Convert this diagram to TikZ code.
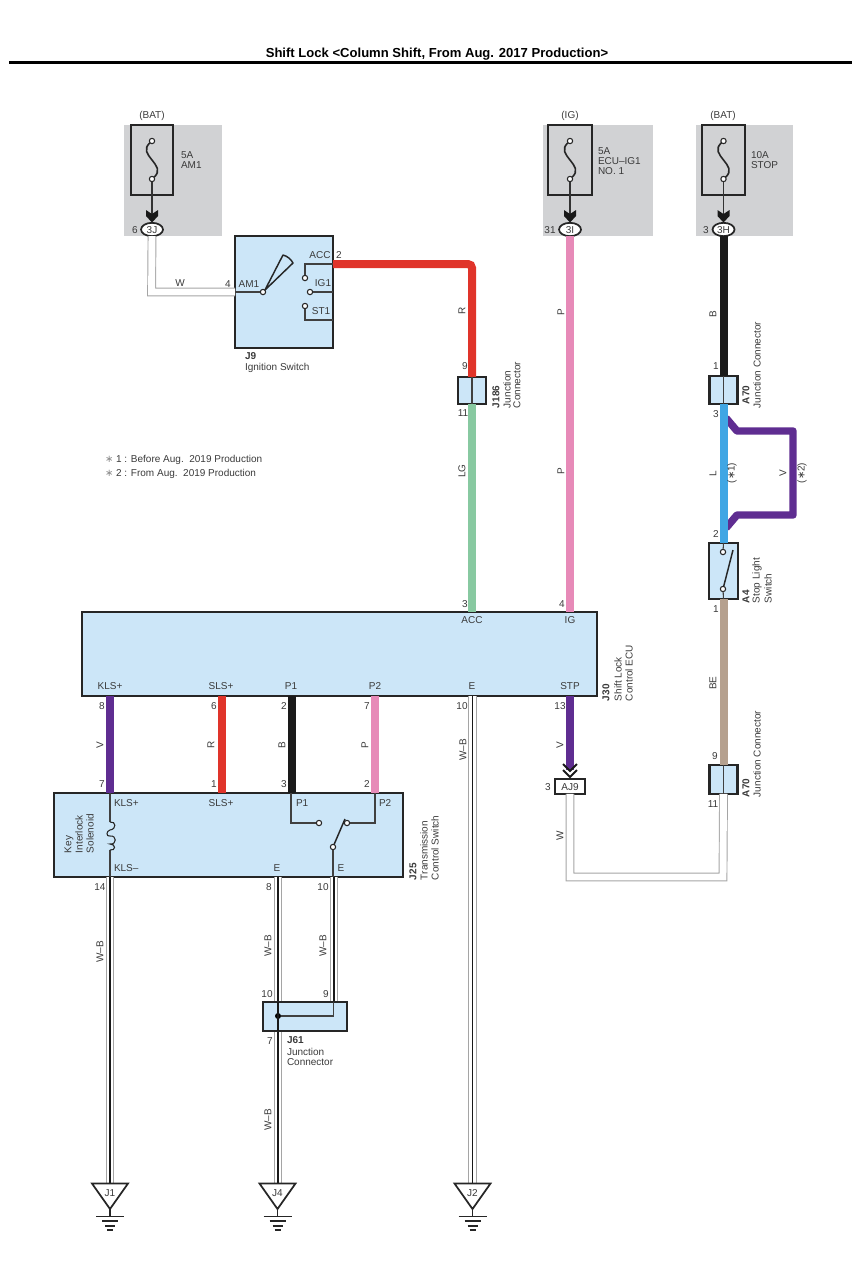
\documentclass[tikz,border=0pt]{standalone}
\usepackage{fontspec}
\usetikzlibrary{shapes.geometric}
\setmainfont{Liberation Sans}
\newfontfamily\symfont{DejaVu Sans}
\definecolor{txt}{HTML}{3A3A3A}
\definecolor{bluefill}{HTML}{CCE6F8}
\definecolor{grayzone}{HTML}{D1D2D4}
\definecolor{wireR}{HTML}{E0342A}
\definecolor{wireP}{HTML}{E78AB8}
\definecolor{wireB}{HTML}{1A1A1A}
\definecolor{wireLG}{HTML}{88C9A1}
\definecolor{wireL}{HTML}{40A6E4}
\definecolor{wireV}{HTML}{5F2D91}
\definecolor{wireBE}{HTML}{B5A08E}
\definecolor{wireGray}{HTML}{A5A5A5}
\newcommand\staric{{\symfont ∗}}
\newcounter{lb}
\newcommand\lbl[3][]{\stepcounter{lb}\node[lbl,#1] (lb\arabic{lb}) at (#2) {#3};}
\tikzset{
 lbl/.style={font=\fontsize{7.5pt}{8pt}\selectfont,text=txt,inner sep=0pt,outer sep=0pt},
 bld/.style={font=\fontsize{7.5pt}{8pt}\selectfont\bfseries},
 rot/.style={rotate=90},
 rotb/.style={rotate=90,anchor=west},
 lft/.style={anchor=west},
 bluebox/.style={draw=black!85,line width=1.6pt,fill=bluefill,inner sep=0pt,outer sep=0pt},
 fusebox/.style={draw=black!85,line width=1.7pt,inner sep=0pt,outer sep=0pt},
 oval/.style={ellipse,draw=black!85,line width=1.3pt,fill=white,minimum width=16.5pt,minimum height=10pt,inner sep=0pt,outer sep=0pt},
 term/.style={circle,draw=black!85,line width=.8pt,fill=white,minimum size=4pt,inner sep=0pt,outer sep=0pt},
 thin wire/.style={draw=black!75,line width=.8pt},
 wire/.style={line width=6pt,draw=#1},
 wwire/.style={draw=wireGray,line width=.7pt,double=white,double distance=5.2pt},
 blk/.style={draw=black!90,line width=1.1pt},
 zone/.style={fill=grayzone,draw=none,inner sep=0pt,outer sep=0pt},
}
\begin{document}
\begin{tikzpicture}[x=0.75pt,y=-0.75pt]
\useasboundingbox (0,0) rectangle (852,1279);
% title
\node[lbl,font=\fontsize{9.8pt}{10pt}\selectfont\bfseries,text=black] (title) at (437,54) {Shift Lock <Column Shift, From Aug. 2017 Production>};
\coordinate (ruleL) at (9,62.5); \coordinate (ruleR) at (852,62.5);
\draw[black,line width=2.2pt] (ruleL) -- (ruleR);
% grey zones
\node[zone,minimum width=73.5pt,minimum height=83.5pt] (z1) at (172.75,180.5) {};
\node[zone,minimum width=82.5pt,minimum height=83.5pt] (z2) at (598,180.5) {};
\node[zone,minimum width=72.5pt,minimum height=83.5pt] (z3) at (744.3,180.5) {};
% long wires
\coordinate (w1) at (333,264);
\node[bluebox,minimum width=21pt,minimum height=20.5pt] (j186) at (472,390.5) {};
\node[bluebox,minimum width=21pt,minimum height=20.5pt] (a70a) at (723.5,390) {};
\node[bluebox,minimum width=21.5pt,minimum height=42pt] (a4) at (723.5,571) {};
\node[bluebox,minimum width=21pt,minimum height=21.5pt] (a70b) at (723.5,779.5) {};
\node[bluebox,minimum width=386pt,minimum height=63pt] (j30) at (339.5,654) {};
\node[bluebox,minimum width=262pt,minimum height=63pt] (j25) at (228.5,835) {};
\node[bluebox,minimum width=63pt,minimum height=21.5pt] (j61) at (305,1016.5) {};
\node[bluebox,minimum width=73.5pt,minimum height=84pt] (j9) at (284,292) {};
\node[fusebox,minimum width=31.5pt,minimum height=52.5pt] (f1) at (152,160) {};
\node[fusebox,minimum width=32.5pt,minimum height=52.5pt] (f2) at (570,160) {};
\node[fusebox,minimum width=32pt,minimum height=52.5pt] (f3) at (723.5,160) {};
\node[oval] (o1) at (152,229.5) {};
\node[oval] (o2) at (570,229.5) {};
\node[oval] (o3) at (723.5,229.5) {};
\node[draw=black!85,line width=1.3pt,fill=white,minimum width=22pt,minimum height=11pt,inner sep=0pt,outer sep=0pt] (aj9) at (570,786.5) {};
% coloured wires
\draw[wire=wireR,rounded corners=3pt] (j9.east |- w1) -| (j186.north);
\draw[wire=wireLG] (j186.south) -- (j186.south |- j30.north);
\draw[wire=wireP] (o2.south) -- (o2.south |- j30.north);
\draw[wire=wireB] (o3.south) -- (a70a.north);
\coordinate (v1) at (726,418); \coordinate (v2) at (737,431); \coordinate (v3) at (793,431);
\coordinate (v4) at (793,515); \coordinate (v5) at (737,515); \coordinate (v6) at (726,528);
\draw[line width=5.6pt,draw=wireV,line join=round] (v1) -- (v2) -- (v3) -- (v4) -- (v5) -- (v6);
\draw[wire=wireL] (a70a.south) -- (a4.north);
\draw[wire=wireBE] (a4.south) -- (a70b.north);
\coordinate (k1) at (110,0); \coordinate (k2) at (221.5,0); \coordinate (k3) at (291.5,0); \coordinate (k4) at (375,0);
\draw[wire=wireV] (k1 |- j30.south) -- (k1 |- j25.north);
\draw[wire=wireR] (k2 |- j30.south) -- (k2 |- j25.north);
\draw[wire=wireB] (k3 |- j30.south) -- (k3 |- j25.north);
\draw[wire=wireP] (k4 |- j30.south) -- (k4 |- j25.north);
\coordinate (stp) at (570,770);
\draw[wire=wireV] (aj9 |- j30.south) -- (stp);
% chevrons STP
\draw[black!90,line width=1.5pt,line join=miter] (563,764) -- (570,771) -- (577,764);
\draw[black!90,line width=1.5pt,line join=miter] (563,770) -- (570,777) -- (577,770);
% white wires
\coordinate (wc) at (151.6,292);
\draw[wwire] (o1.south) -- (wc) -- (j9.west |- wc);
\coordinate (wd) at (570,877); \coordinate (we) at (723,877);
\draw[wwire] (aj9.south) -- (wd) -- (we) -- (a70b.south);
% W-B wires
\coordinate (g1) at (110,1183); \coordinate (g2) at (278,1183); \coordinate (g3) at (472.5,1183);
\coordinate (t2) at (278,877); \coordinate (t3) at (334,877);
\draw[wwire] (g1 |- j25.south) -- (g1);
\draw[black!90,line width=1.1pt] (g1 |- j25.south) -- (g1);
\draw[wwire] (t2) -- (g2);
\draw[black!90,line width=1.1pt] (t2) -- (g2);
\draw[wwire] (t3) -- (t3 |- j61.north);
\draw[black!90,line width=1.1pt] (t3) -- (t3 |- j61.north);
\draw[wwire] (g3 |- j30.south) -- (g3);
\draw[black!90,line width=1.1pt] (g3 |- j30.south) -- (g3);
% J61 redraw over wires
\node[bluebox,minimum width=63pt,minimum height=21.5pt] (j61b) at (305,1016.5) {};
\node[circle,fill=black,minimum size=4.5pt,inner sep=0pt] (jd) at (278,1016) {};
\coordinate (g2t) at (278,1002); \coordinate (g2b) at (278,1031);
\draw[blk] (g2t) -- (g2b);
\coordinate (jr) at (333.5,1016);
\draw[thin wire] (jd) -- (jr) -- (jr |- j61b.north);
% fuses
\foreach \n/\x in {a/152,b/570,c/723.5}{
  \node[term] (\n top) at (\x,141) {};
  \node[term] (\n bot) at (\x,179) {};
  \coordinate (\n tip) at (\x,214);
  \draw[black!85,line width=1.2pt] (\n top) .. controls (\x-16,155) and (\x+16,165) .. (\n bot);
  \draw[black!80,line width=.9pt] (\n bot) -- (\n tip);
  \fill[black!90] (\x-6,210) -- (\n tip) -- (\x+6,210) -- (\x+6,216) -- (\x,222.5) -- (\x-6,216) -- cycle;
}
% J186 / A70 inner lines
\draw[thin wire] (j186.north) -- (j186.south);
\draw[thin wire] (a70a.north) -- (a70a.south);
\draw[thin wire] (a70b.north) -- (a70b.south);
% J9 internals
\node[term] (sw0) at (263,292) {};
\node[term] (sw1) at (305,278) {};
\node[term] (sw2) at (310,292) {};
\node[term] (sw3) at (305,306) {};
\coordinate (s1c) at (305,264); \coordinate (s3c) at (305,320);
\draw[thin wire] (j9.west |- sw0) -- (sw0);
\draw[thin wire] (sw1) -- (s1c) -- (j9.east |- s1c);
\draw[thin wire] (sw2) -- (j9.east |- sw2);
\draw[thin wire] (sw3) -- (s3c) -- (j9.east |- s3c);
\draw[black!85,line width=1.1pt,line join=round] (sw0.north east) -- (283,255) .. controls (287,256) and (291,259) .. (293,263) -- cycle;
% A4 internals
\node[term] (a4t) at (723,552) {};
\node[term] (a4b) at (723,589) {};
\coordinate (a4s) at (733,550);
\draw[thin wire] (a4.north) -- (a4t);
\draw[thin wire] (a4b) -- (a4.south);
\draw[black!85,line width=1.1pt] (a4b) -- (a4s);
% J25 internals
\coordinate (ctop) at (110,822); \coordinate (cbot) at (110,850);
\draw[thin wire] (k1 |- j25.north) -- (ctop);
\draw[thin wire] (cbot) -- (k1 |- j25.south);
\draw[black!85,line width=.8pt] (ctop) .. controls (116,821) and (117,829) .. (110,830)
   .. controls (106,831) and (106,837) .. (110,836)
   .. controls (117,835) and (117,845) .. (110,844)
   .. controls (116,844) and (116,851) .. (cbot);
\node[term] (t1) at (319,823) {};
\node[term] (t2n) at (347,823) {};
\node[term] (t3n) at (333,847) {};
\coordinate (p1a) at (291,823); \coordinate (p2a) at (375,823); \coordinate (t3s) at (345,819);
\draw[thin wire] (p1a |- j25.north) -- (p1a) -- (t1);
\draw[thin wire] (p2a |- j25.north) -- (p2a) -- (t2n);
\draw[thin wire] (t3n) -- (t3n |- j25.south);
\draw[black!85,line width=1.1pt] (t3n) -- (t3s);
% grounds
\foreach \n/\x in {J1/110,J4/277.5,J2/472.5}{
  \coordinate (\n tip) at (\x,1209);
  \draw[draw=black!85,line width=1.3pt,line join=miter,fill=white] (\x-18,1183.5) -- (\x+18,1183.5) -- (\n tip) -- cycle;
  \node[lbl] (\n lab) at (\x,1193) {\n};
  \coordinate (\n b) at (\x,1216.5);
  \draw[black!85,line width=1.1pt] (\n tip) -- (\n b);
  \draw[black!85,line width=1.1pt] (\x-14,1216.5) -- (\x+14,1216.5) (\x-8,1221) -- (\x+8,1221) (\x-5,1226) -- (\x+5,1226) (\x-3,1230) -- (\x+3,1230);
}
% ---- labels: top
\lbl{152,116}{(BAT)}
\lbl[lft]{181,155}{5A}
\lbl[lft]{181,165}{AM1}
\lbl{135,230}{6}
\lbl{152,230}{3J}
\lbl{570,116}{(IG)}
\lbl[lft]{598,151}{5A}
\lbl[lft]{598,161}{ECU–IG1}
\lbl[lft]{598,171}{NO. 1}
\lbl{550,230}{31}
\lbl{570,230}{3I}
\lbl{723,116}{(BAT)}
\lbl[lft]{751,155}{10A}
\lbl[lft]{751,165}{STOP}
\lbl{706,230}{3}
\lbl{723.5,230}{3H}
% J9
\lbl{320,255}{ACC}
\lbl{339,255}{2}
\lbl{323,283}{IG1}
\lbl{321,311}{ST1}
\lbl{249,284}{AM1}
\lbl{228,284}{4}
\lbl{180,283}{W}
\lbl[lft,bld]{245,356}{J9}
\lbl[lft]{245,368}{Ignition Switch}
% notes
\lbl[lft]{105,460}{\textcolor{black!45}{\staric} 1 : Before Aug.~~2019 Production}
\lbl[lft]{105,474}{\textcolor{black!45}{\staric} 2 : From Aug.~~2019 Production}
% wire labels
\lbl[rot]{462,311}{R}
\lbl{465,366}{9}
\lbl{463,413}{11}
\lbl[rotb,bld]{496,408}{J186}
\lbl[rotb]{507,408}{Junction}
\lbl[rotb]{517,408}{Connector}
\lbl[rot]{462,471}{LG}
\lbl{465,604}{3}
\lbl[rot]{561,312}{P}
\lbl[rot]{561,471}{P}
\lbl{562,604}{4}
\lbl[rot]{713,314}{B}
\lbl{716,366}{1}
\lbl[rotb,bld]{746,404}{A70}
\lbl[rotb]{757,408}{Junction Connector}
\lbl{716,414}{3}
\lbl[rot]{713,474}{L}
\lbl[rot]{732,473}{(\staric 1)}
\lbl[rot]{783,473}{V}
\lbl[rot]{802,473}{(\staric 2)}
\lbl{716,534}{2}
\lbl[rotb,bld]{746,603}{A4}
\lbl[rotb]{757,603}{Stop Light}
\lbl[rotb]{768,603}{Switch}
\lbl{716,609}{1}
\lbl[rot]{713,683}{BE}
\lbl{715,756}{9}
\lbl{713,804}{11}
\lbl[rotb,bld]{746,797}{A70}
\lbl[rotb]{757,797}{Junction Connector}
% J30
\lbl{472,620}{ACC}
\lbl{570,620}{IG}
\lbl{110,686}{KLS+}
\lbl{221,686}{SLS+}
\lbl{291,686}{P1}
\lbl{375,686}{P2}
\lbl{472,686}{E}
\lbl{570,686}{STP}
\lbl[rotb,bld]{606,701}{J30}
\lbl[rotb]{618,701}{Shift Lock}
\lbl[rotb]{629,701}{Control ECU}
\lbl{102,706}{8}
\lbl{214,706}{6}
\lbl{284,706}{2}
\lbl{367,706}{7}
\lbl{462,706}{10}
\lbl{560,706}{13}
\lbl[rot]{100,745}{V}
\lbl[rot]{211,745}{R}
\lbl[rot]{282,745}{B}
\lbl[rot]{365,745}{P}
\lbl[rot]{463,750}{W–B}
\lbl[rot]{560,745}{V}
\lbl{102,784}{7}
\lbl{214,784}{1}
\lbl{284,784}{3}
\lbl{367,784}{2}
\lbl{548,787}{3}
\lbl{570,787}{AJ9}
\lbl[rot]{560,836}{W}
% J25
\lbl[lft]{114,803}{KLS+}
\lbl{221,803}{SLS+}
\lbl[lft]{296,803}{P1}
\lbl[lft]{379,803}{P2}
\lbl[lft]{114,868}{KLS–}
\lbl{277,868}{E}
\lbl{341,868}{E}
\lbl[rotb]{69,853}{Key}
\lbl[rotb]{79,853}{Interlock}
\lbl[rotb]{90,853}{Solenoid}
\lbl[rotb,bld]{413,880}{J25}
\lbl[rotb]{424,880}{Transmission}
\lbl[rotb]{435,880}{Control Switch}
\lbl{100,887}{14}
\lbl{269,887}{8}
\lbl{323,887}{10}
\lbl[rot]{100,952}{W–B}
\lbl[rot]{268,946}{W–B}
\lbl[rot]{323,946}{W–B}
% J61
\lbl{267,994}{10}
\lbl{326,994}{9}
\lbl{270,1041}{7}
\lbl[lft,bld]{287,1040}{J61}
\lbl[lft]{287,1052}{Junction}
\lbl[lft]{287,1062}{Connector}
\lbl[rot]{268,1120}{W–B}
\end{tikzpicture}
\end{document}
